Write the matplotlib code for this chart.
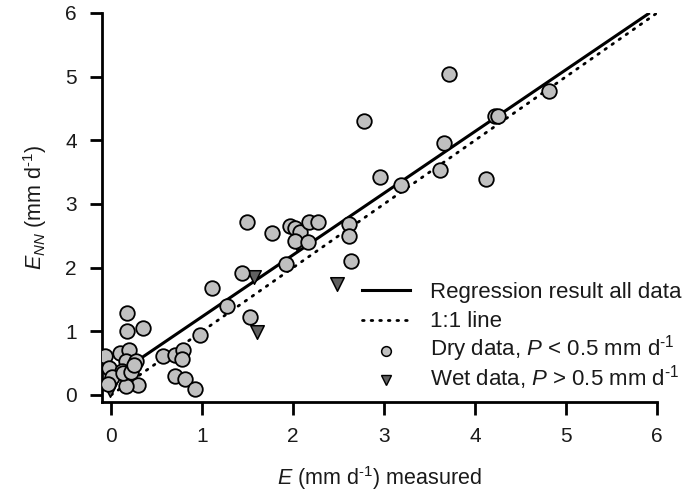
import matplotlib
matplotlib.use("Agg")
import matplotlib.pyplot as plt
from matplotlib.lines import Line2D
import numpy as np

plt.rcParams['font.family'] = ['Liberation Sans', 'DejaVu Sans']
plt.rcParams['mathtext.fontset'] = 'custom'
plt.rcParams['mathtext.rm'] = 'Liberation Sans'
plt.rcParams['mathtext.it'] = 'Liberation Sans:italic'
plt.rcParams['mathtext.bf'] = 'Liberation Sans:bold'

# Dry data (P < 0.5 mm/d)
dry_x = [0.17, 0.18, 0.35, -0.07, 0.10, 0.20, 0.16, 0.27, -0.02, 0.12, 0.01, 0.19,
         0.30, 0.16, -0.03, 0.13, 0.22, 0.25, 0.57, 0.70, 0.79, 0.78, 0.70, 0.81, 0.92,
         0.98, 1.11, 1.27, 1.53, 1.44, 1.49, 1.77, 1.92, 1.97, 2.02, 2.08, 2.18, 2.27,
         2.02, 2.16, 2.62, 2.62, 2.64, 2.78, 2.96, 3.19, 3.61, 3.66, 3.71, 4.12, 4.22,
         4.25, 4.81]
dry_y = [1.29, 1.01, 1.06, 0.61, 0.66, 0.70, 0.54, 0.54, 0.42, 0.37, 0.29, 0.25,
         0.16, 0.14, 0.18, 0.34, 0.36, 0.47, 0.61, 0.63, 0.71, 0.56, 0.30, 0.25, 0.09,
         0.95, 1.68, 1.40, 1.22, 1.92, 2.71, 2.54, 2.06, 2.65, 2.62, 2.56, 2.71, 2.71,
         2.42, 2.41, 2.68, 2.49, 2.10, 4.31, 3.42, 3.30, 3.54, 3.96, 5.04, 3.39, 4.38,
         4.39, 4.78]

# Wet data (P > 0.5 mm/d)
wet_x = [-0.01, 1.57, 2.04, 2.48, 1.60]
wet_y = [0.08, 1.86, 2.37, 1.74, 0.99]

# Regression result (all data)
reg_slope = 0.97
reg_intercept = 0.26
reg_x = [0.1, 5.92]

one_x = [0.0, 6.0]

legend_labels = ['Regression result all data', '1:1 line',
                 r'Dry data, $P$ < 0.5 mm d$^{\text{-1}}$',
                 r'Wet data, $P$ > 0.5 mm d$^{\text{-1}}$']

FS = 15.5
LFS = 16
TXT = '#1a1a1a'
DOT = (0, (0.6, 2.5))

fig = plt.figure(figsize=(6.86, 4.97), dpi=100)
ax = fig.add_axes([102/686, 1-402/497, 555/686, 389/497])

ax.plot(one_x, one_x, color='black', lw=2.0, linestyle=DOT,
        dash_capstyle='round', zorder=2)
rx = np.array(reg_x)
ax.plot(rx, reg_slope*rx + reg_intercept, color='black', lw=2.2, zorder=2,
        solid_capstyle='butt')

ax.scatter(wet_x, wet_y, marker='v', s=95, facecolor='#606060', edgecolor='black',
           linewidths=1.1, zorder=3)
ax.scatter(dry_x, dry_y, marker='o', s=110, facecolor='#c0c0c0', edgecolor='black',
           linewidths=1.3, zorder=4)

ax.set_xlim(-0.1, 6.0)
ax.set_ylim(-0.11, 6.0)
ax.set_xticks(range(0, 7))
ax.set_yticks(range(0, 7))
for s in ['top', 'right']:
    ax.spines[s].set_visible(False)
for s in ['left', 'bottom']:
    ax.spines[s].set_linewidth(2.0)
ax.tick_params(direction='out', length=9, width=2.0, labelsize=15, pad=9,
               color='black', labelcolor=TXT)

ax.set_xlabel(r'$E$ (mm d$^{\text{-1}}$) measured', fontsize=FS, labelpad=13, color=TXT)
ax.set_ylabel(r'$E_{NN}$ (mm d$^{\text{-1}}$)', fontsize=FS, labelpad=12, color=TXT)

# manual legend (figure pixel coordinates converted to fractions)
W, H = 686.0, 497.0
rows_y = [290, 320, 351, 380]
base_y = [298, 327, 356, 385]
hx0, hx1, tx = 362, 410, 430
fig.add_artist(Line2D([hx0/W, hx1/W], [1-rows_y[0]/H]*2, color='black', lw=2.2,
                      transform=fig.transFigure))
fig.add_artist(Line2D([hx0/W, hx1/W], [1-rows_y[1]/H]*2, color='black', lw=2.0,
                      linestyle=DOT, dash_capstyle='round', transform=fig.transFigure))
fig.add_artist(Line2D([386/W], [1-rows_y[2]/H], marker='o', linestyle='none', markersize=7,
                      markerfacecolor='#c0c0c0', markeredgecolor='black',
                      markeredgewidth=1.1, transform=fig.transFigure))
fig.add_artist(Line2D([386/W], [1-rows_y[3]/H], marker='v', linestyle='none', markersize=7,
                      markerfacecolor='#606060', markeredgecolor='black',
                      markeredgewidth=1.0, transform=fig.transFigure))
for lab, by in zip(legend_labels, base_y):
    fig.text(tx/W, 1-by/H, lab, fontsize=LFS, color=TXT, ha='left', va='baseline')

fig.savefig('out.png', dpi=100)
